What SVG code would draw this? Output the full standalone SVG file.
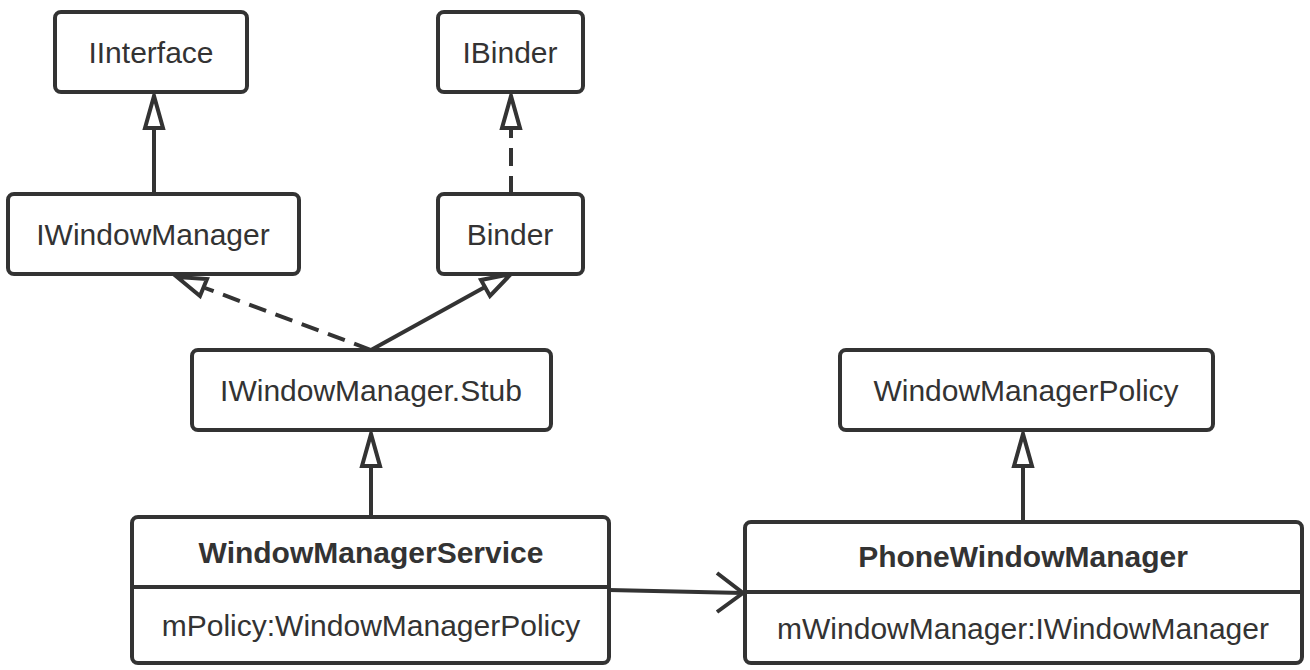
<svg xmlns="http://www.w3.org/2000/svg" width="1310" height="670" viewBox="0 0 1310 670">
<style>
.box{fill:#fff;stroke:#333;stroke-width:4}
.ln{fill:none;stroke:#333;stroke-width:4}
.dash{stroke-dasharray:18 10}
.t{font-family:"Liberation Sans",Arial,sans-serif;font-size:30px;fill:#333;text-anchor:middle}
.b{font-weight:bold}
.tri{fill:#fff;stroke:#333;stroke-width:4;stroke-linejoin:miter}
</style>
<defs>
<marker id="hollow" viewBox="0 0 20 36" refX="19" refY="18" markerWidth="20" markerHeight="36" markerUnits="userSpaceOnUse" orient="auto">
<path d="M2,2 L19,18 L2,34" fill="none"/>
</marker>
</defs>
<rect width="1310" height="670" fill="#fff"/>
<g id="connectors">
<line class="ln" x1="154" y1="194" x2="154" y2="128"/>
<polygon class="tri" points="154,96 145,128 163,128"/>
<line class="ln dash" x1="511" y1="194" x2="511" y2="128"/>
<polygon class="tri" points="511,96 502,128 520,128"/>
<line class="ln dash" x1="371" y1="350" x2="205" y2="288"/>
<polygon class="tri" points="177,277 207,279 200,296"/>
<line class="ln" x1="371" y1="350" x2="485" y2="287"/>
<polygon class="tri" points="511,274 481,280 490,296"/>
<line class="ln" x1="371" y1="517" x2="371" y2="466"/>
<polygon class="tri" points="371,434 362,466 380,466"/>
<line class="ln" x1="1023" y1="522" x2="1023" y2="466"/>
<polygon class="tri" points="1023,434 1014,466 1032,466"/>
<line class="ln" x1="609" y1="590" x2="743" y2="593"/>
<path class="ln" d="M717,573 L743,593 L717,612"/>
</g>
<g id="IInterface">
<rect class="box" x="55" y="12" width="192" height="80" rx="6"/>
<text class="t" x="151" y="63">IInterface</text>
</g>
<g id="IBinder">
<rect class="box" x="438" y="12" width="145" height="80" rx="6"/>
<text class="t" x="510" y="63">IBinder</text>
</g>
<g id="IWindowManager">
<rect class="box" x="8" y="194" width="291" height="80" rx="6"/>
<text class="t" x="153" y="245">IWindowManager</text>
</g>
<g id="Binder">
<rect class="box" x="438" y="194" width="145" height="80" rx="6"/>
<text class="t" x="510" y="245">Binder</text>
</g>
<g id="IWindowManagerStub">
<rect class="box" x="192" y="350" width="359" height="80" rx="6"/>
<text class="t" x="371" y="401">IWindowManager.Stub</text>
</g>
<g id="WindowManagerPolicy">
<rect class="box" x="840" y="350" width="373" height="80" rx="6"/>
<text class="t" x="1026" y="401">WindowManagerPolicy</text>
</g>
<g id="WindowManagerService">
<rect class="box" x="132" y="517" width="477" height="146" rx="6"/>
<line class="ln" x1="132" y1="587" x2="609" y2="587"/>
<text class="t b" x="371" y="563">WindowManagerService</text>
<text class="t" x="371" y="636">mPolicy:WindowManagerPolicy</text>
</g>
<g id="PhoneWindowManager">
<rect class="box" x="745" y="522" width="557" height="141" rx="6"/>
<line class="ln" x1="745" y1="592" x2="1302" y2="592"/>
<text class="t b" x="1023" y="567">PhoneWindowManager</text>
<text class="t" x="1023" y="639">mWindowManager:IWindowManager</text>
</g>
</svg>
